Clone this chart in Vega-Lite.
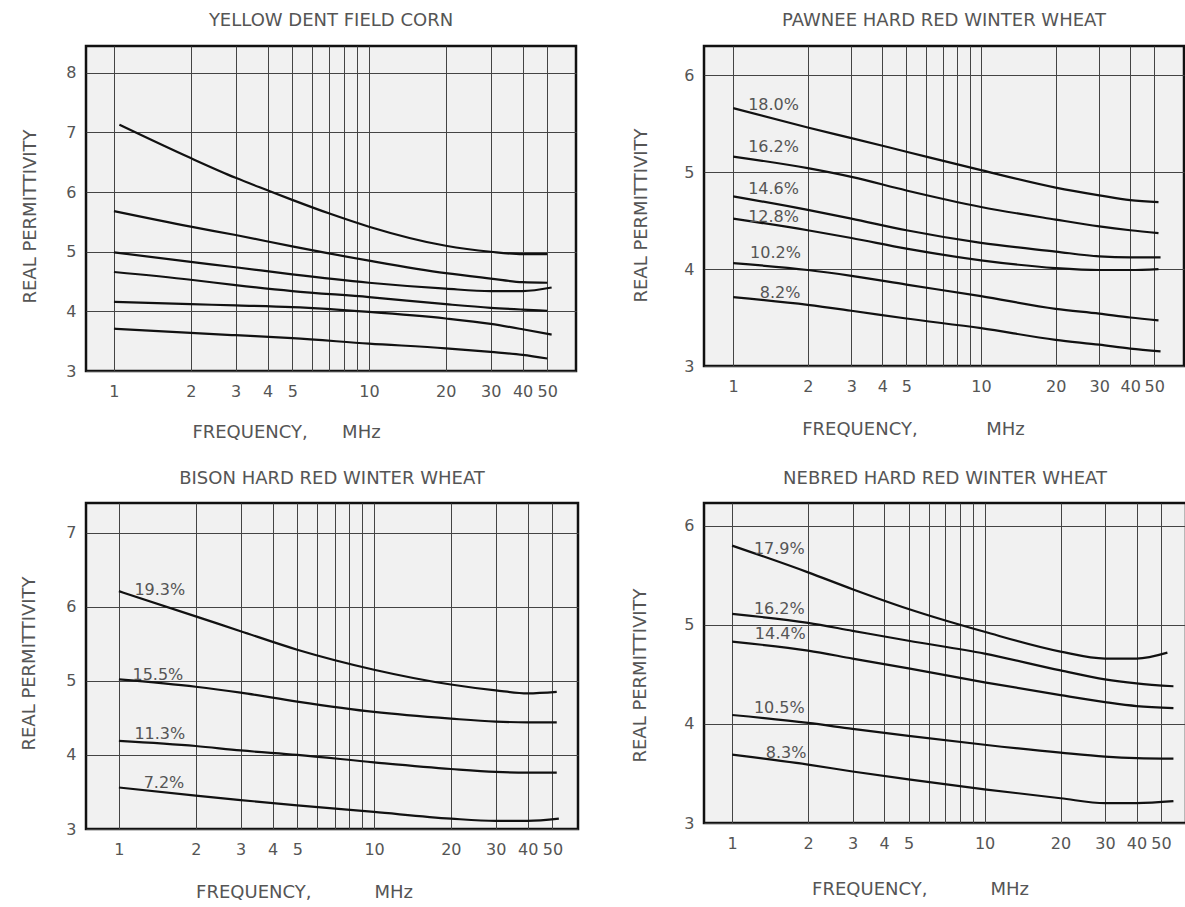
{
  "$schema": "https://vega.github.io/schema/vega-lite/v6.json",
  "background": "white",
  "padding": {"left": 18, "top": 10, "right": 0, "bottom": 0},
  "datasets": {
    "curves": [
      {"p":"corn","s":"a","f":1.05,"v":7.13},{"p":"corn","s":"a","f":2,"v":6.57},{"p":"corn","s":"a","f":3,"v":6.24},{"p":"corn","s":"a","f":4,"v":6.03},{"p":"corn","s":"a","f":5,"v":5.87},{"p":"corn","s":"a","f":7,"v":5.64},{"p":"corn","s":"a","f":10,"v":5.42},{"p":"corn","s":"a","f":20,"v":5.10},{"p":"corn","s":"a","f":30,"v":5.00},{"p":"corn","s":"a","f":40,"v":4.96},{"p":"corn","s":"a","f":50,"v":4.96},
      {"p":"corn","s":"b","f":1,"v":5.68},{"p":"corn","s":"b","f":2,"v":5.42},{"p":"corn","s":"b","f":3,"v":5.28},{"p":"corn","s":"b","f":5,"v":5.09},{"p":"corn","s":"b","f":10,"v":4.85},{"p":"corn","s":"b","f":20,"v":4.64},{"p":"corn","s":"b","f":30,"v":4.55},{"p":"corn","s":"b","f":40,"v":4.49},{"p":"corn","s":"b","f":50,"v":4.48},
      {"p":"corn","s":"c","f":1,"v":4.99},{"p":"corn","s":"c","f":2,"v":4.83},{"p":"corn","s":"c","f":3,"v":4.74},{"p":"corn","s":"c","f":5,"v":4.62},{"p":"corn","s":"c","f":10,"v":4.48},{"p":"corn","s":"c","f":20,"v":4.38},{"p":"corn","s":"c","f":30,"v":4.34},{"p":"corn","s":"c","f":40,"v":4.34},{"p":"corn","s":"c","f":52,"v":4.40},
      {"p":"corn","s":"d","f":1,"v":4.66},{"p":"corn","s":"d","f":2,"v":4.53},{"p":"corn","s":"d","f":3,"v":4.44},{"p":"corn","s":"d","f":5,"v":4.34},{"p":"corn","s":"d","f":10,"v":4.24},{"p":"corn","s":"d","f":20,"v":4.12},{"p":"corn","s":"d","f":30,"v":4.06},{"p":"corn","s":"d","f":40,"v":4.03},{"p":"corn","s":"d","f":50,"v":4.01},
      {"p":"corn","s":"e","f":1,"v":4.16},{"p":"corn","s":"e","f":2,"v":4.12},{"p":"corn","s":"e","f":3,"v":4.10},{"p":"corn","s":"e","f":5,"v":4.07},{"p":"corn","s":"e","f":10,"v":3.99},{"p":"corn","s":"e","f":20,"v":3.88},{"p":"corn","s":"e","f":30,"v":3.79},{"p":"corn","s":"e","f":40,"v":3.70},{"p":"corn","s":"e","f":52,"v":3.61},
      {"p":"corn","s":"f","f":1,"v":3.71},{"p":"corn","s":"f","f":2,"v":3.64},{"p":"corn","s":"f","f":3,"v":3.60},{"p":"corn","s":"f","f":5,"v":3.55},{"p":"corn","s":"f","f":10,"v":3.46},{"p":"corn","s":"f","f":20,"v":3.38},{"p":"corn","s":"f","f":30,"v":3.32},{"p":"corn","s":"f","f":40,"v":3.27},{"p":"corn","s":"f","f":50,"v":3.21},

      {"p":"pawnee","s":"18.0","f":1,"v":5.66},{"p":"pawnee","s":"18.0","f":2,"v":5.46},{"p":"pawnee","s":"18.0","f":3,"v":5.35},{"p":"pawnee","s":"18.0","f":5,"v":5.21},{"p":"pawnee","s":"18.0","f":10,"v":5.02},{"p":"pawnee","s":"18.0","f":20,"v":4.84},{"p":"pawnee","s":"18.0","f":30,"v":4.76},{"p":"pawnee","s":"18.0","f":40,"v":4.71},{"p":"pawnee","s":"18.0","f":52,"v":4.69},
      {"p":"pawnee","s":"16.2","f":1,"v":5.16},{"p":"pawnee","s":"16.2","f":2,"v":5.04},{"p":"pawnee","s":"16.2","f":3,"v":4.95},{"p":"pawnee","s":"16.2","f":5,"v":4.81},{"p":"pawnee","s":"16.2","f":10,"v":4.64},{"p":"pawnee","s":"16.2","f":20,"v":4.51},{"p":"pawnee","s":"16.2","f":30,"v":4.44},{"p":"pawnee","s":"16.2","f":40,"v":4.40},{"p":"pawnee","s":"16.2","f":52,"v":4.37},
      {"p":"pawnee","s":"14.6","f":1,"v":4.75},{"p":"pawnee","s":"14.6","f":2,"v":4.61},{"p":"pawnee","s":"14.6","f":3,"v":4.52},{"p":"pawnee","s":"14.6","f":5,"v":4.40},{"p":"pawnee","s":"14.6","f":10,"v":4.27},{"p":"pawnee","s":"14.6","f":20,"v":4.18},{"p":"pawnee","s":"14.6","f":30,"v":4.13},{"p":"pawnee","s":"14.6","f":40,"v":4.12},{"p":"pawnee","s":"14.6","f":53,"v":4.12},
      {"p":"pawnee","s":"12.8","f":1,"v":4.52},{"p":"pawnee","s":"12.8","f":2,"v":4.40},{"p":"pawnee","s":"12.8","f":3,"v":4.32},{"p":"pawnee","s":"12.8","f":5,"v":4.21},{"p":"pawnee","s":"12.8","f":10,"v":4.09},{"p":"pawnee","s":"12.8","f":20,"v":4.01},{"p":"pawnee","s":"12.8","f":30,"v":3.99},{"p":"pawnee","s":"12.8","f":40,"v":3.99},{"p":"pawnee","s":"12.8","f":52,"v":4.00},
      {"p":"pawnee","s":"10.2","f":1,"v":4.06},{"p":"pawnee","s":"10.2","f":2,"v":3.99},{"p":"pawnee","s":"10.2","f":3,"v":3.93},{"p":"pawnee","s":"10.2","f":5,"v":3.84},{"p":"pawnee","s":"10.2","f":10,"v":3.72},{"p":"pawnee","s":"10.2","f":20,"v":3.59},{"p":"pawnee","s":"10.2","f":30,"v":3.54},{"p":"pawnee","s":"10.2","f":40,"v":3.50},{"p":"pawnee","s":"10.2","f":52,"v":3.47},
      {"p":"pawnee","s":"8.2","f":1,"v":3.71},{"p":"pawnee","s":"8.2","f":2,"v":3.63},{"p":"pawnee","s":"8.2","f":3,"v":3.57},{"p":"pawnee","s":"8.2","f":5,"v":3.49},{"p":"pawnee","s":"8.2","f":10,"v":3.39},{"p":"pawnee","s":"8.2","f":20,"v":3.27},{"p":"pawnee","s":"8.2","f":30,"v":3.22},{"p":"pawnee","s":"8.2","f":40,"v":3.18},{"p":"pawnee","s":"8.2","f":53,"v":3.15},

      {"p":"bison","s":"19.3","f":1,"v":6.21},{"p":"bison","s":"19.3","f":2,"v":5.87},{"p":"bison","s":"19.3","f":3,"v":5.67},{"p":"bison","s":"19.3","f":5,"v":5.42},{"p":"bison","s":"19.3","f":10,"v":5.15},{"p":"bison","s":"19.3","f":20,"v":4.95},{"p":"bison","s":"19.3","f":30,"v":4.87},{"p":"bison","s":"19.3","f":40,"v":4.83},{"p":"bison","s":"19.3","f":52,"v":4.85},
      {"p":"bison","s":"15.5","f":1,"v":5.02},{"p":"bison","s":"15.5","f":2,"v":4.92},{"p":"bison","s":"15.5","f":3,"v":4.84},{"p":"bison","s":"15.5","f":5,"v":4.72},{"p":"bison","s":"15.5","f":10,"v":4.58},{"p":"bison","s":"15.5","f":20,"v":4.49},{"p":"bison","s":"15.5","f":30,"v":4.45},{"p":"bison","s":"15.5","f":40,"v":4.44},{"p":"bison","s":"15.5","f":52,"v":4.44},
      {"p":"bison","s":"11.3","f":1,"v":4.19},{"p":"bison","s":"11.3","f":2,"v":4.12},{"p":"bison","s":"11.3","f":3,"v":4.06},{"p":"bison","s":"11.3","f":5,"v":4.00},{"p":"bison","s":"11.3","f":10,"v":3.90},{"p":"bison","s":"11.3","f":20,"v":3.81},{"p":"bison","s":"11.3","f":30,"v":3.77},{"p":"bison","s":"11.3","f":40,"v":3.76},{"p":"bison","s":"11.3","f":52,"v":3.76},
      {"p":"bison","s":"7.2","f":1,"v":3.56},{"p":"bison","s":"7.2","f":2,"v":3.45},{"p":"bison","s":"7.2","f":3,"v":3.39},{"p":"bison","s":"7.2","f":5,"v":3.32},{"p":"bison","s":"7.2","f":10,"v":3.23},{"p":"bison","s":"7.2","f":20,"v":3.14},{"p":"bison","s":"7.2","f":30,"v":3.11},{"p":"bison","s":"7.2","f":40,"v":3.11},{"p":"bison","s":"7.2","f":53,"v":3.14},

      {"p":"nebred","s":"17.9","f":1,"v":5.80},{"p":"nebred","s":"17.9","f":2,"v":5.53},{"p":"nebred","s":"17.9","f":3,"v":5.36},{"p":"nebred","s":"17.9","f":5,"v":5.16},{"p":"nebred","s":"17.9","f":10,"v":4.93},{"p":"nebred","s":"17.9","f":20,"v":4.73},{"p":"nebred","s":"17.9","f":30,"v":4.66},{"p":"nebred","s":"17.9","f":40,"v":4.66},{"p":"nebred","s":"17.9","f":53,"v":4.72},
      {"p":"nebred","s":"16.2","f":1,"v":5.11},{"p":"nebred","s":"16.2","f":2,"v":5.02},{"p":"nebred","s":"16.2","f":3,"v":4.94},{"p":"nebred","s":"16.2","f":5,"v":4.84},{"p":"nebred","s":"16.2","f":10,"v":4.71},{"p":"nebred","s":"16.2","f":20,"v":4.54},{"p":"nebred","s":"16.2","f":30,"v":4.45},{"p":"nebred","s":"16.2","f":40,"v":4.41},{"p":"nebred","s":"16.2","f":56,"v":4.38},
      {"p":"nebred","s":"14.4","f":1,"v":4.83},{"p":"nebred","s":"14.4","f":2,"v":4.74},{"p":"nebred","s":"14.4","f":3,"v":4.66},{"p":"nebred","s":"14.4","f":5,"v":4.56},{"p":"nebred","s":"14.4","f":10,"v":4.42},{"p":"nebred","s":"14.4","f":20,"v":4.29},{"p":"nebred","s":"14.4","f":30,"v":4.22},{"p":"nebred","s":"14.4","f":40,"v":4.18},{"p":"nebred","s":"14.4","f":56,"v":4.16},
      {"p":"nebred","s":"10.5","f":1,"v":4.09},{"p":"nebred","s":"10.5","f":2,"v":4.01},{"p":"nebred","s":"10.5","f":3,"v":3.95},{"p":"nebred","s":"10.5","f":5,"v":3.88},{"p":"nebred","s":"10.5","f":10,"v":3.79},{"p":"nebred","s":"10.5","f":20,"v":3.71},{"p":"nebred","s":"10.5","f":30,"v":3.67},{"p":"nebred","s":"10.5","f":40,"v":3.655},{"p":"nebred","s":"10.5","f":56,"v":3.65},
      {"p":"nebred","s":"8.3","f":1,"v":3.69},{"p":"nebred","s":"8.3","f":2,"v":3.59},{"p":"nebred","s":"8.3","f":3,"v":3.52},{"p":"nebred","s":"8.3","f":5,"v":3.44},{"p":"nebred","s":"8.3","f":10,"v":3.34},{"p":"nebred","s":"8.3","f":20,"v":3.25},{"p":"nebred","s":"8.3","f":30,"v":3.20},{"p":"nebred","s":"8.3","f":40,"v":3.20},{"p":"nebred","s":"8.3","f":56,"v":3.22}
    ],
    "labels": [
      {"p":"pawnee","t":"18.0%","f":1.15,"v":5.64},{"p":"pawnee","t":"16.2%","f":1.15,"v":5.21},{"p":"pawnee","t":"14.6%","f":1.15,"v":4.77},{"p":"pawnee","t":"12.8%","f":1.15,"v":4.49},{"p":"pawnee","t":"10.2%","f":1.17,"v":4.11},{"p":"pawnee","t":"8.2%","f":1.28,"v":3.70},
      {"p":"bison","t":"19.3%","f":1.15,"v":6.16},{"p":"bison","t":"15.5%","f":1.13,"v":5.01},{"p":"bison","t":"11.3%","f":1.15,"v":4.22},{"p":"bison","t":"7.2%","f":1.25,"v":3.56},
      {"p":"nebred","t":"17.9%","f":1.22,"v":5.72},{"p":"nebred","t":"16.2%","f":1.22,"v":5.11},{"p":"nebred","t":"14.4%","f":1.23,"v":4.86},{"p":"nebred","t":"10.5%","f":1.22,"v":4.11},{"p":"nebred","t":"8.3%","f":1.36,"v":3.66}
    ]
  },
  "columns": 2,
  "bounds": "flush",
  "spacing": {"row": 132, "column": 126},
  "concat": [
    {
      "width": 490, "height": 325,
      "title": {"text": "YELLOW DENT FIELD CORN", "offset": 16},
      "encoding": {
        "x": {"field": "f", "type": "quantitative", "scale": {"type": "log", "domain": [0.777, 64.8], "nice": false},
              "axis": {"values": [1,2,3,4,5,6,7,8,9,10,20,30,40,50], "labelExpr": "datum.value >= 6 && datum.value <= 9 ? '' : '' + datum.value",
                       "title": "FREQUENCY,\u00a0\u00a0\u00a0\u00a0\u00a0\u00a0MHz", "titleX": 200, "titleY": 61}},
        "y": {"field": "v", "type": "quantitative", "scale": {"domain": [3, 8.45], "nice": false, "zero": false},
              "axis": {"values": [3,4,5,6,7,8], "title": "REAL PERMITTIVITY", "titleX": -56, "titleY": 170}}
      },
      "layer": [
        {"data": {"name": "curves"}, "transform": [{"filter": "datum.p === 'corn'"}],
         "mark": {"type": "line", "interpolate": "monotone", "color": "#111", "strokeWidth": 2.2},
         "encoding": {"detail": {"field": "s"}}}
      ]
    },
    {
      "width": 480, "height": 320,
      "title": {"text": "PAWNEE HARD RED WINTER WHEAT", "offset": 16},
      "encoding": {
        "x": {"field": "f", "type": "quantitative", "scale": {"type": "log", "domain": [0.763, 65.9], "nice": false},
              "axis": {"values": [1,2,3,4,5,6,7,8,9,10,20,30,40,50], "labelExpr": "datum.value >= 6 && datum.value <= 9 ? '' : '' + datum.value",
                       "title": "FREQUENCY,\u00a0\u00a0\u00a0\u00a0\u00a0\u00a0\u00a0\u00a0\u00a0\u00a0\u00a0\u00a0MHz", "titleX": 209, "titleY": 63}},
        "y": {"field": "v", "type": "quantitative", "scale": {"domain": [3, 6.3], "nice": false, "zero": false},
              "axis": {"values": [3,4,5,6], "title": "REAL PERMITTIVITY", "titleX": -63, "titleY": 169}}
      },
      "layer": [
        {"data": {"name": "curves"}, "transform": [{"filter": "datum.p === 'pawnee'"}],
         "mark": {"type": "line", "interpolate": "monotone", "color": "#111", "strokeWidth": 2.2},
         "encoding": {"detail": {"field": "s"}}},
        {"data": {"name": "labels"}, "transform": [{"filter": "datum.p === 'pawnee'"}],
         "mark": {"type": "text", "align": "left", "baseline": "alphabetic", "font": "DejaVu Sans", "fontSize": 16, "color": "#555"},
         "encoding": {"text": {"field": "t"}}}
      ]
    },
    {
      "width": 492, "height": 326,
      "title": {"text": "BISON HARD RED WINTER WHEAT", "offset": 15},
      "encoding": {
        "x": {"field": "f", "type": "quantitative", "scale": {"type": "log", "domain": [0.743, 63], "nice": false},
              "axis": {"values": [1,2,3,4,5,6,7,8,9,10,20,30,40,50], "labelExpr": "datum.value >= 6 && datum.value <= 9 ? '' : '' + datum.value",
                       "title": "FREQUENCY,\u00a0\u00a0\u00a0\u00a0\u00a0\u00a0\u00a0\u00a0\u00a0\u00a0\u00a0MHz", "titleX": 218, "titleY": 63}},
        "y": {"field": "v", "type": "quantitative", "scale": {"domain": [3, 7.4], "nice": false, "zero": false},
              "axis": {"values": [3,4,5,6,7], "title": "REAL PERMITTIVITY", "titleX": -57, "titleY": 160}}
      },
      "layer": [
        {"data": {"name": "curves"}, "transform": [{"filter": "datum.p === 'bison'"}],
         "mark": {"type": "line", "interpolate": "monotone", "color": "#111", "strokeWidth": 2.2},
         "encoding": {"detail": {"field": "s"}}},
        {"data": {"name": "labels"}, "transform": [{"filter": "datum.p === 'bison'"}],
         "mark": {"type": "text", "align": "left", "baseline": "alphabetic", "font": "DejaVu Sans", "fontSize": 16, "color": "#555"},
         "encoding": {"text": {"field": "t"}}}
      ]
    },
    {
      "width": 482, "height": 320,
      "title": {"text": "NEBRED HARD RED WINTER WHEAT", "offset": 15},
      "encoding": {
        "x": {"field": "f", "type": "quantitative", "scale": {"type": "log", "domain": [0.774, 62.8], "nice": false},
              "axis": {"values": [1,2,3,4,5,6,7,8,9,10,20,30,40,50], "labelExpr": "datum.value >= 6 && datum.value <= 9 ? '' : '' + datum.value",
                       "title": "FREQUENCY,\u00a0\u00a0\u00a0\u00a0\u00a0\u00a0\u00a0\u00a0\u00a0\u00a0\u00a0MHz", "titleX": 216, "titleY": 66}},
        "y": {"field": "v", "type": "quantitative", "scale": {"domain": [3, 6.23], "nice": false, "zero": false},
              "axis": {"values": [3,4,5,6], "title": "REAL PERMITTIVITY", "titleX": -64, "titleY": 172}}
      },
      "layer": [
        {"data": {"name": "curves"}, "transform": [{"filter": "datum.p === 'nebred'"}],
         "mark": {"type": "line", "interpolate": "monotone", "color": "#111", "strokeWidth": 2.2},
         "encoding": {"detail": {"field": "s"}}},
        {"data": {"name": "labels"}, "transform": [{"filter": "datum.p === 'nebred'"}],
         "mark": {"type": "text", "align": "left", "baseline": "alphabetic", "font": "DejaVu Sans", "fontSize": 16, "color": "#555"},
         "encoding": {"text": {"field": "t"}}}
      ]
    }
  ],
  "config": {
    "view": {"stroke": "#111", "strokeWidth": 2.5, "fill": "#f1f1f1"},
    "axis": {
      "grid": true, "gridColor": "#444", "gridWidth": 1, "gridOpacity": 1,
      "ticks": false, "domain": false,
      "labelFont": "DejaVu Sans", "labelFontSize": 16, "labelColor": "#555", "labelPadding": 12,
      "labelOverlap": false, "labelFlush": false,
      "titleFont": "DejaVu Sans", "titleFontSize": 18, "titleColor": "#555", "titleFontWeight": "normal",
      "titleBaseline": "middle", "titleAlign": "center"
    },
    "axisY": {"labelPadding": 10},
    "title": {"font": "DejaVu Sans", "fontSize": 18, "fontWeight": "normal", "color": "#555", "anchor": "middle"}
  }
}
